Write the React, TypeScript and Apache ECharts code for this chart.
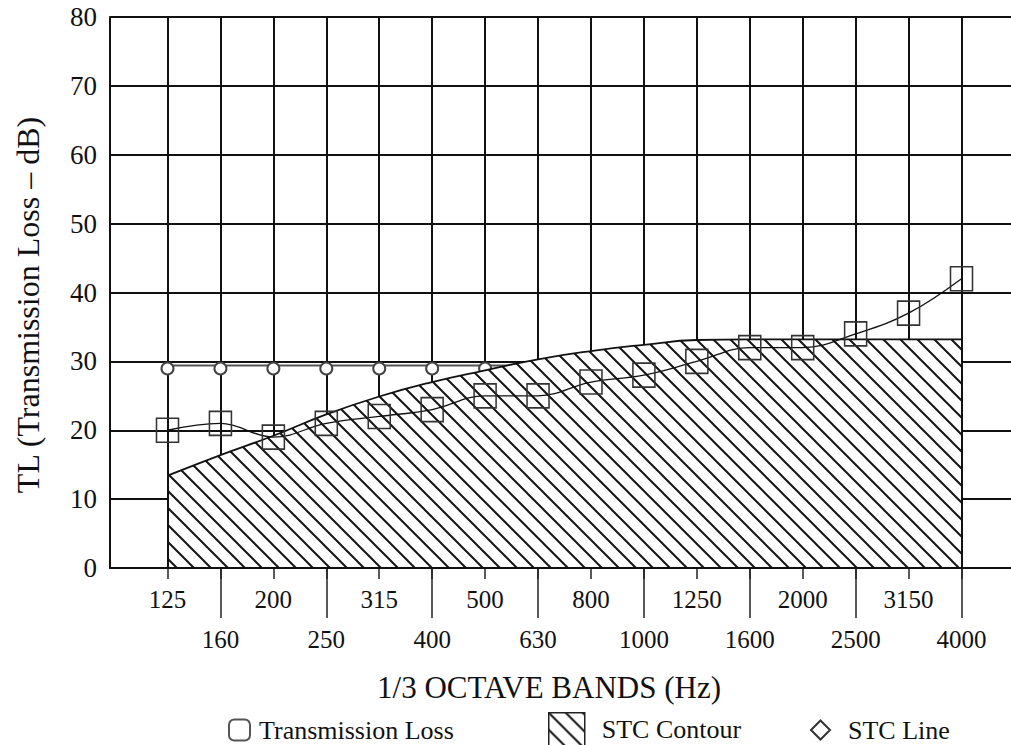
import React, { useEffect, useRef } from "react";
import * as echarts from "echarts";

const bands = ["125", "160", "200", "250", "315", "400", "500", "630", "800", "1000", "1250", "1600", "2000", "2500", "3150", "4000"];
const transmissionLoss = [20, 21, 19, 21, 22, 23, 25, 25, 27, 28, 30, 32, 32, 34, 37, 42];
const stcContour = [13.4, 16.4, 19.2, 22.3, 24.9, 27, 28.7, 30.3, 31.5, 32.4, 33.1, 33.2, 33.2, 33.2, 33.2, 33.2];
const stcLine = [29.4, 29.4, 29.4, 29.4, 29.4, 29.4, 29.4, 29.4];
const stcMarkerCount = 7;
const yMin = 0;
const yMax = 80;
const yStep = 10;

const FONT = '"Liberation Serif", "Times New Roman", Times, serif';
const INK = "#111";

function makeHatch(): HTMLCanvasElement {
  const s = 17;
  const c = document.createElement("canvas");
  c.width = s;
  c.height = s;
  const ctx = c.getContext("2d")!;
  ctx.fillStyle = "#fff";
  ctx.fillRect(0, 0, s, s);
  ctx.strokeStyle = "#151515";
  ctx.lineWidth = 2;
  ctx.beginPath();
  ctx.moveTo(-3, -3);
  ctx.lineTo(s + 3, s + 3);
  ctx.moveTo(-3, s - 3);
  ctx.lineTo(3, s + 3);
  ctx.moveTo(s - 3, -3);
  ctx.lineTo(s + 3, 3);
  ctx.stroke();
  return c;
}

export default function App() {
  const ref = useRef<HTMLDivElement>(null);

  useEffect(() => {
    if (!ref.current) return;
    const chart = echarts.init(ref.current, null, { renderer: "svg" });
    const hatch = { image: makeHatch(), repeat: "repeat" } as any;
    const last = bands.length - 1;
    const legendText = { fontFamily: FONT, fontSize: 26, color: INK };

    const option: any = {
      animation: false,
      backgroundColor: "#fff",
      grid: [
        { left: 110, right: 0, top: 17, bottom: 177, outerBoundsMode: "none", containLabel: false },
        { left: 167.5, right: 49.5, top: 17, bottom: 177, outerBoundsMode: "none", containLabel: false },
      ],
      legend: [
        {
          left: 228,
          top: 717,
          padding: 0,
          itemWidth: 21,
          itemHeight: 21,
          selectedMode: false,
          textStyle: { ...legendText, padding: [0, 0, 0, 4] },
          data: [
            {
              name: "Transmission Loss",
              icon: "roundRect",
              itemStyle: { color: "#fff", borderColor: "#555", borderWidth: 2 },
            },
          ],
        },
        {
          left: 548,
          top: 712,
          padding: 0,
          itemWidth: 36,
          itemHeight: 34,
          selectedMode: false,
          textStyle: { ...legendText, padding: [0, 0, 0, 12] },
          data: [
            {
              name: "STC Contour",
              icon: "rect",
              itemStyle: { color: hatch, borderColor: "#222", borderWidth: 1.5 },
            },
          ],
        },
        {
          left: 810,
          top: 717,
          padding: 0,
          itemWidth: 19,
          itemHeight: 19,
          selectedMode: false,
          textStyle: { ...legendText, padding: [0, 0, 0, 13] },
          data: [
            {
              name: "STC Line",
              icon: "diamond",
              itemStyle: { color: "#fff", borderColor: "#333", borderWidth: 2 },
            },
          ],
        },
      ],
      xAxis: [
        {
          gridIndex: 0,
          type: "value",
          position: "bottom",
          min: 0,
          max: 1,
          z: 5,
          axisLine: { show: true, onZero: false, lineStyle: { color: INK, width: 2 } },
          axisTick: { show: false },
          axisLabel: { show: false },
          splitLine: { show: false },
          name: "1/3 OCTAVE BANDS (Hz)",
          nameLocation: "middle",
          nameGap: 104,
          nameTextStyle: { fontFamily: FONT, fontSize: 31, color: INK, padding: [0, 23, 0, 0] },
        },
        {
          gridIndex: 1,
          type: "category",
          position: "bottom",
          data: bands,
          boundaryGap: false,
          axisLine: { show: false, onZero: false },
          axisTick: { show: true, length: 11, interval: 0, lineStyle: { color: "#222", width: 1.5 } },
          axisLabel: {
            interval: (i: number) => i % 2 === 0,
            margin: 19,
            fontFamily: FONT,
            fontSize: 25,
            color: INK,
          },
          splitLine: { show: true, interval: 0, lineStyle: { color: INK, width: 2 } },
        },
        {
          gridIndex: 1,
          type: "category",
          position: "bottom",
          offset: 0,
          data: bands,
          boundaryGap: false,
          axisLine: { show: false, onZero: false },
          axisTick: {
            show: true,
            length: 50,
            interval: (i: number) => i % 2 === 1,
            lineStyle: { color: "#222", width: 1.5 },
          },
          axisLabel: {
            interval: (i: number) => i % 2 === 1,
            margin: 59,
            fontFamily: FONT,
            fontSize: 25,
            color: INK,
          },
          splitLine: { show: false },
        },
      ],
      yAxis: [
        {
          gridIndex: 0,
          type: "value",
          position: "left",
          min: yMin,
          max: yMax,
          interval: yStep,
          axisLine: { show: true, lineStyle: { color: INK, width: 2 } },
          axisTick: { show: false },
          axisLabel: { margin: 13, fontFamily: FONT, fontSize: 27, color: INK },
          splitLine: { show: true, lineStyle: { color: INK, width: 2 } },
          name: "TL (Transmission Loss – dB)",
          nameLocation: "middle",
          nameGap: 66,
          nameTextStyle: { fontFamily: FONT, fontSize: 32, color: INK, padding: [0, 25, 0, 0] },
        },
        {
          gridIndex: 1,
          type: "value",
          position: "left",
          min: yMin,
          max: yMax,
          interval: yStep,
          show: false,
          splitLine: { show: false },
        },
      ],
      series: [
        {
          name: "STC Line",
          type: "line",
          xAxisIndex: 1,
          yAxisIndex: 1,
          z: 2,
          data: stcLine.map((v, i) => (i < stcMarkerCount ? v : { value: v, symbol: "none" })),
          symbol: "emptyCircle",
          symbolSize: 12,
          symbolOffset: [0, 3],
          lineStyle: { color: "#555", width: 2.2 },
          itemStyle: { color: "#444", borderWidth: 1.6 },
        },
        {
          name: "STC Contour",
          type: "line",
          xAxisIndex: 1,
          yAxisIndex: 1,
          z: 3,
          data: stcContour,
          smooth: 0.5,
          symbol: "none",
          lineStyle: { color: INK, width: 1.8 },
          itemStyle: { color: "#222" },
          areaStyle: { color: hatch, opacity: 1 },
          markLine: {
            silent: true,
            symbol: "none",
            label: { show: false },
            lineStyle: { color: INK, width: 2, type: "solid" },
            data: [
              [{ coord: [bands[0], yMin] }, { coord: [bands[0], stcContour[0]] }],
              [{ coord: [bands[last], yMin] }, { coord: [bands[last], stcContour[last]] }],
            ],
          },
        },
        {
          name: "Transmission Loss",
          type: "line",
          xAxisIndex: 1,
          yAxisIndex: 1,
          z: 4,
          data: transmissionLoss,
          smooth: 0.4,
          symbol: "rect",
          symbolSize: [22, 24],
          lineStyle: { color: INK, width: 1.3 },
          itemStyle: { color: "transparent", borderColor: "#333", borderWidth: 1.6 },
        },
      ],
    };

    chart.setOption(option);
    return () => chart.dispose();
  }, []);

  return (
    <div
      ref={ref}
      style={{ position: "fixed", left: 0, top: 0, width: 1011, height: 745, background: "#fff" }}
    />
  );
}
